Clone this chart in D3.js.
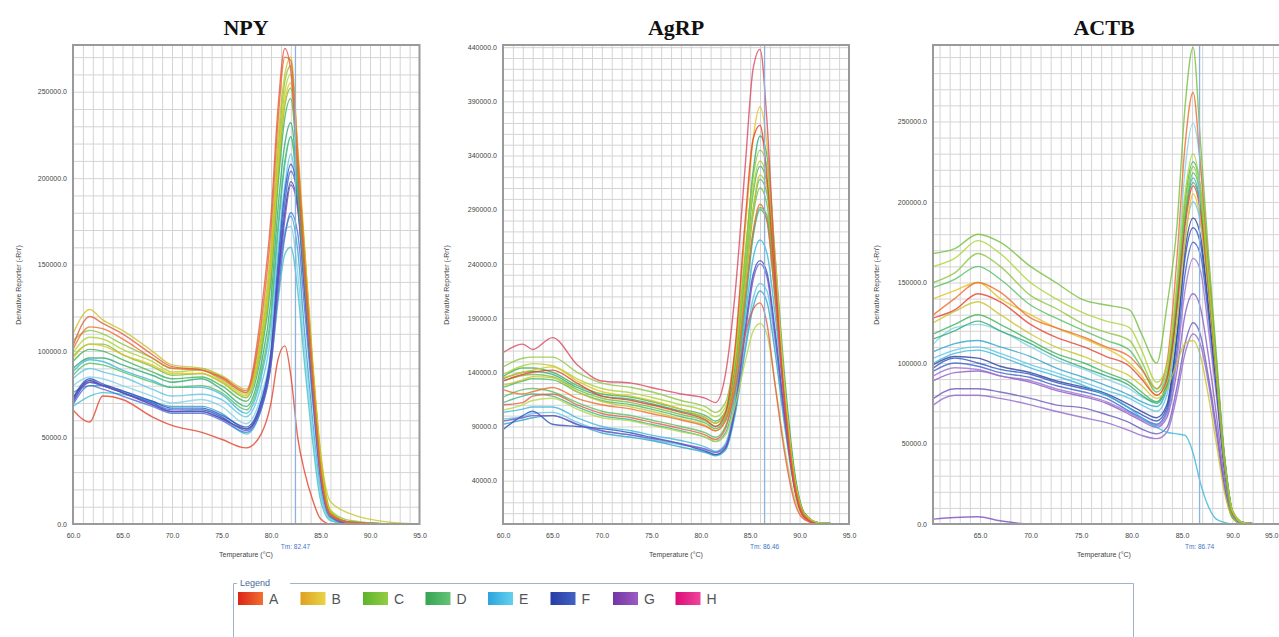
<!DOCTYPE html>
<html lang="en">
<head>
<meta charset="UTF-8">
<title>Melt curves</title>
<style>
  body { margin: 0; background: #fff; }
  svg text { font-family: "Liberation Sans", Arial, sans-serif; }
  .title { font-family: "Liberation Serif", "Times New Roman", serif; font-weight: bold; font-size: 22px; fill: #111; }
  .tick text { font-size: 7px; fill: #444; }
  .axis path { display: none; }
  .grid line { stroke: #d4d4d4; stroke-width: 1; }
  .grid path { display: none; }
  .axis-title { font-size: 7px; fill: #444; }
  .tm { font-size: 6.5px; fill: #3f74c8; }
</style>
</head>
<body>
<svg id="chart" width="1279" height="637"></svg>
<script src="https://d3js.org/d3.v7.min.js"></script>
<script>
// wells / legend
var groups = ["A", "B", "C", "D", "E", "F", "G", "H"];
var panelTitles = ["NPY", "AgRP", "ACTB"];
var tmLabels = [82.47, 86.46, 86.74];

// --- NPY : derivative reporter, thousands ---
var npyTemps = [60, 61.7, 63, 65, 68, 70, 73, 75, 77.5, 79, 80, 80.7, 81.4, 82, 82.7, 83.4, 84.2, 85, 86, 88, 92, 95];
var npyWells = ["E","E","E","E","E","F","F","F","F","G","D","D","D","C","C","C","B","B","A","A","A"];
var npyValues = [
  [88,95,94,89,83,79,79,75,64,85,118,168,208,224,192,140,80,30,5,0,0,0],
  [84,90,88,85,78,74,75,72,62,80,110,158,196,214,185,132,74,26,4,0,0,0],
  [76,80,80,77,71,68,68,64,55,70,98,140,168,178,158,110,60,20,3,0,0,0],
  [80,85,84,80,74,70,72,68,58,74,100,142,170,172,145,100,55,18,3,0,0,0],
  [68,74,76,75,70,65,66,62,52,66,92,128,156,160,135,92,48,14,2,0,0,0],
  [73,84,81,77,71,67,67,63,56,71,100,150,192,208,190,140,82,32,5,1,0,0],
  [70,82,80,76,70,66,66,62,54,68,96,145,186,204,188,138,80,30,5,1,0,0],
  [72,83,80,76,69,65,65,61,55,68,95,140,180,198,184,136,80,30,5,1,0,0],
  [69,80,78,74,68,64,64,60,53,66,92,132,166,180,168,124,72,26,4,0,0,0],
  [71,82,80,76,69,65,65,61,55,68,94,138,176,196,182,134,78,28,5,0,0,0],
  [94,101,100,95,88,84,85,80,71,98,140,195,235,246,204,152,90,38,7,1,0,0],
  [90,96,96,92,86,82,84,78,68,92,130,182,220,232,196,146,86,35,6,1,0,0],
  [86,93,92,88,82,79,80,76,66,88,122,172,210,224,190,140,82,32,5,1,0,0],
  [106,112,110,104,96,90,90,85,76,108,155,215,256,265,212,158,92,40,8,2,0,0],
  [99,108,107,101,94,88,89,83,75,105,150,208,250,260,210,156,92,40,8,1,0,0],
  [97,104,104,98,91,86,87,82,73,102,145,200,242,252,206,154,90,38,7,1,0,0],
  [96,104,103,98,92,87,87,82,74,104,148,205,245,255,210,156,92,38,7,1,0,0],
  [110,124,118,112,100,92,90,86,78,112,160,222,260,270,218,160,95,42,13,6,1,0],
  [66,59,74,72,62,57,53,49,44,52,70,95,103,86,50,30,14,3,0,0,0,0],
  [101,114,113,107,96,90,89,84,76,116,170,232,270,268,215,152,88,33,6,1,0,0],
  [103,120,116,110,98,91,89,85,77,122,178,240,275,262,205,145,82,30,5,1,0,0]
];
var npyYTicks = [0, 50000, 100000, 150000, 200000, 250000];
var npyXTicks = [60, 65, 70, 75, 80, 85, 90, 95];

// --- AgRP ---
var agrpTemps = [60, 62, 63, 65, 67.5, 70, 73, 75, 78, 80.5, 81.5, 82.5, 83.5, 84.5, 85.3, 86, 86.7, 87.5, 88.5, 89.5, 90.5, 92, 95];
var agrpWells = ["E","E","E","F","G","D","D","D","D","D","C","C","C","C","B","B","A","A","A","H"];
var agrpValues = [
  [103,106,108,108,98,90,86,82,77,71,67,74,115,190,245,262,250,195,110,40,9,1,0],
  [97,99,102,103,94,86,82,78,73,68,64,70,105,165,208,222,215,170,95,34,7,0,0],
  [92,96,98,100,92,84,80,77,71,66,63,68,102,160,200,215,205,160,90,32,6,0,0],
  [87,100,104,92,90,88,84,80,74,67,64,70,108,180,230,243,232,180,100,35,7,0,0],
  [95,98,100,100,92,86,82,79,74,69,66,72,108,175,225,240,228,175,98,34,7,0,0],
  [136,144,144,140,128,120,117,113,106,100,95,104,148,235,305,330,315,232,125,45,10,1,0],
  [134,140,141,138,126,118,115,111,104,98,93,103,150,245,325,358,340,250,135,48,10,1,0],
  [117,124,125,122,112,104,100,96,90,84,80,90,130,205,268,292,285,215,118,42,9,1,0],
  [112,118,120,118,108,100,96,92,86,80,76,84,122,200,265,290,280,210,115,40,9,1,0],
  [126,132,134,133,122,114,110,106,99,93,88,97,140,225,290,318,305,228,122,43,9,1,0],
  [145,153,154,154,140,130,126,122,114,108,103,112,160,250,320,345,330,240,125,42,9,1,0],
  [138,146,148,146,134,125,121,117,110,104,99,108,152,240,310,335,318,235,122,42,9,1,0],
  [132,137,138,136,124,116,112,108,101,95,90,99,140,220,285,310,295,220,118,40,8,1,0],
  [105,110,114,116,106,98,95,91,85,80,76,82,110,150,178,185,175,130,70,24,5,0,0],
  [135,140,142,145,132,122,118,114,106,98,93,104,160,270,355,385,350,250,125,40,8,0,0],
  [128,133,136,135,122,113,108,104,97,91,86,95,138,222,290,322,310,230,122,42,9,1,0],
  [132,138,140,142,130,118,114,110,103,96,90,102,165,280,355,368,320,225,110,35,6,0,0],
  [124,120,122,126,116,110,106,102,96,90,86,95,135,210,270,295,280,210,112,38,8,0,0],
  [110,112,118,120,110,102,98,94,88,82,78,88,125,175,198,204,185,130,65,20,4,0,0],
  [158,166,161,172,147,132,130,126,120,116,112,138,215,330,420,438,372,238,108,32,6,0,0]
];
var agrpYTicks = [40000, 90000, 140000, 190000, 240000, 290000, 340000, 390000, 440000];
var agrpXTicks = [60, 65, 70, 75, 80, 85, 90, 95];

// --- ACTB ---
var actbTemps = [60.4, 62.5, 64.8, 67, 70, 72.5, 75.3, 77.5, 79.8, 81, 82.5, 83.5, 84.5, 85.3, 86.1, 86.8, 87.6, 88.4, 89.2, 90, 91, 93, 96];
var actbWells = ["G","G","G","G","G","F","F","F","E","E","E","E","D","D","D","B","B","A","A","C","C","C"];
var actbValues = [
  [3,4,4.5,2,0,0,0,0,0,0,0,0,0,0,0,0,0,0,0,0,0,0,0],
  [74,80,80,78,74,70,66,63,58,55,53,57,80,106,118,112,88,56,22,4,0,0,0],
  [78,84,84,82,78,74,72,68,63,59,56,60,85,112,125,118,92,60,24,4,0,0,0],
  [89,94,95,92,88,83,79,75,68,64,60,66,95,130,143,135,105,68,28,5,0,0,0],
  [92,97,96,92,89,84,80,76,69,65,61,68,102,145,165,158,122,80,33,6,1,0,0],
  [97,103,100,96,93,88,84,80,72,68,64,72,115,165,184,175,135,86,36,7,1,0,0],
  [95,100,98,94,91,86,82,78,70,66,62,70,108,155,175,168,130,84,35,7,1,0,0],
  [99,104,103,98,94,89,85,81,74,70,66,74,118,170,190,180,138,88,37,7,1,0,0],
  [100,106,108,104,97,92,86,80,72,66,60,57,56,55,44,26,11,3,1,0,0,0,0],
  [103,108,110,106,99,94,88,83,78,74,70,80,125,178,200,188,145,92,38,7,1,0,0],
  [107,112,114,110,104,97,91,86,80,76,73,84,135,190,215,200,152,96,40,8,1,0,0],
  [112,122,124,120,110,102,96,90,84,79,76,90,150,220,249,225,165,104,44,8,1,0,0],
  [118,124,130,124,114,106,100,94,88,82,76,88,140,200,225,210,158,100,42,8,1,0,0],
  [115,120,126,120,112,104,97,92,86,80,75,86,135,190,212,198,150,96,40,8,1,0,0],
  [147,152,160,152,136,128,120,114,108,97,82,92,140,190,218,205,155,98,42,8,1,0,0],
  [140,145,150,140,130,122,115,109,100,92,80,88,125,175,205,190,145,92,38,7,1,0,0],
  [125,132,138,130,118,110,104,98,92,86,78,84,100,112,114,105,80,50,20,4,0,0,0],
  [128,133,143,138,124,116,110,104,98,90,80,90,135,185,210,195,148,94,38,7,1,0,0],
  [130,140,150,144,128,122,116,110,104,96,84,100,165,235,268,225,160,100,42,8,1,0,0],
  [150,156,168,160,142,134,124,119,114,101,84,95,145,195,222,205,152,96,40,8,1,0,0],
  [160,165,176,168,150,140,131,126,122,108,88,98,150,205,230,210,155,98,40,8,1,0,0],
  [168,171,180,175,160,150,139,136,133,118,100,135,185,259,296,240,170,105,40,4,0,0,0]
];
var actbYTicks = [0, 50000, 100000, 150000, 200000, 250000];
var actbXTicks = [65, 70, 75, 80, 85, 90, 95];

// colours
var wellPalette = {
  A: ["#e5412b", "#ef6a2c", "#e35b45"],
  B: ["#e2c21e", "#c9c42a"],
  C: ["#8dc63f", "#a9d432", "#76be3c", "#b4d84a"],
  D: ["#3db458", "#2eaa70", "#55bf62", "#34b48a", "#48b86a"],
  E: ["#36b6dc", "#5ac6e6", "#2aa5c9", "#7fd2e8", "#3fc0c8"],
  F: ["#2d4fbf", "#3b63d0", "#26409c", "#4a70d8"],
  G: ["#7b4fc2", "#9367cc", "#6c58bc", "#8a5ac8", "#a070d0"],
  H: ["#d9475f", "#e6197f"]
};
var legendStops = {
  A: ["#dc2418", "#f07030"], B: ["#e0a020", "#e8d448"], C: ["#5cb42c", "#94cc44"],
  D: ["#34a454", "#64c474"], E: ["#2ca4dc", "#64d0f0"], F: ["#263ca4", "#4462c4"],
  G: ["#7434a4", "#9c5cc4"], H: ["#dc0c78", "#f0449c"]
};

var svg = d3.select("#chart");
var W = 1279, TOP = 45, BOTTOM = 524;

var panels = [
  { key: "npy", temps: npyTemps, wells: npyWells, values: npyValues, yTicks: npyYTicks, xTicks: npyXTicks,
    xDomain: [60, 95], yMax: 277000, left: 73, right: 419.5, cx: 246, ylabX: 21 },
  { key: "agrp", temps: agrpTemps, wells: agrpWells, values: agrpValues, yTicks: agrpYTicks, xTicks: agrpXTicks,
    xDomain: [60, 95], yMax: 442000, left: 503, right: 849, cx: 676, ylabX: 449 },
  { key: "actb", temps: actbTemps, wells: actbWells, values: actbValues, yTicks: actbYTicks, xTicks: actbXTicks,
    xDomain: [60.35, 95], yMax: 297500, left: 933, right: 1283, cx: 1104, ylabX: 879 }
];

panels.forEach(function(p, pi) {
  var x = d3.scaleLinear().domain(p.xDomain).range([p.left, p.right]);
  var y = d3.scaleLinear().domain([0, p.yMax]).range([BOTTOM, TOP]);
  var w = p.right - p.left, h = BOTTOM - TOP;
  var g = svg.append("g");

  svg.append("clipPath").attr("id", "clip-" + p.key)
    .append("rect").attr("x", p.left).attr("y", TOP).attr("width", w).attr("height", h);

  // grid: 1 degree columns, 10000 rows
  var vGrid = d3.range(Math.ceil(p.xDomain[0] + 0.01), 95);
  var hGrid = d3.range(10000, p.yMax, 10000);
  g.append("g").attr("class", "grid")
    .attr("transform", "translate(0," + BOTTOM + ")")
    .call(d3.axisBottom(x).tickValues(vGrid).tickSize(-h).tickFormat(""));
  g.append("g").attr("class", "grid")
    .attr("transform", "translate(" + p.left + ",0)")
    .call(d3.axisLeft(y).tickValues(hGrid).tickSize(-w).tickFormat(""));

  // curves
  var counts = {};
  var colors = p.wells.map(function(wl) {
    counts[wl] = (counts[wl] || 0);
    var pal = wellPalette[wl];
    var c = pal[counts[wl] % pal.length];
    counts[wl]++;
    return c;
  });
  var line = d3.line()
    .x(function(v, i) { return x(p.temps[i]); })
    .y(function(v) { return y(v * 1000); })
    .curve(d3.curveMonotoneX);
  g.append("g").attr("clip-path", "url(#clip-" + p.key + ")")
    .selectAll("path").data(p.values).join("path")
    .attr("d", line)
    .attr("fill", "none")
    .attr("stroke", function(d, i) { return colors[i]; })
    .attr("stroke-width", 1.4)
    .attr("stroke-opacity", 0.8);

  // Tm marker
  var tmX = x(tmLabels[pi]);
  g.append("line").attr("x1", tmX).attr("x2", tmX).attr("y1", TOP).attr("y2", BOTTOM)
    .attr("stroke", "#8db2de").attr("stroke-width", 1.3);
  g.append("text").attr("class", "tm").attr("x", tmX).attr("y", 549)
    .attr("text-anchor", "middle").text("Tm: " + tmLabels[pi].toFixed(2));

  // frame
  g.append("rect").attr("x", p.left).attr("y", TOP).attr("width", w).attr("height", h)
    .attr("fill", "none").attr("stroke", "#9a9a9a").attr("stroke-width", 2);

  // axes
  g.append("g").attr("class", "axis").attr("transform", "translate(" + p.left + ",0)")
    .call(d3.axisLeft(y).tickValues(p.yTicks).tickSize(0).tickPadding(6)
      .tickFormat(function(d) { return d.toFixed(1); }));
  var xAxis = g.append("g").attr("class", "axis").attr("transform", "translate(0," + BOTTOM + ")")
    .call(d3.axisBottom(x).tickValues(p.xTicks).tickSize(0).tickPadding(9)
      .tickFormat(function(d) { return d.toFixed(1); }));
  // keep a label that would run past the window inside it
  xAxis.selectAll(".tick").each(function(d) {
    if (x(d) > W - 8) {
      d3.select(this).select("text").attr("text-anchor", "end").attr("x", W - 1 - x(d));
    }
  });

  g.append("text").attr("class", "axis-title")
    .attr("transform", "translate(" + p.ylabX + "," + 285 + ") rotate(-90)")
    .attr("text-anchor", "middle").text("Derivative Reporter (-Rn')");
  g.append("text").attr("class", "axis-title").attr("x", p.cx).attr("y", 557)
    .attr("text-anchor", "middle").text("Temperature (\u00B0C)");

  svg.append("text").attr("class", "title").attr("x", p.cx).attr("y", 35)
    .attr("text-anchor", "middle").text(panelTitles[pi]);
});

// legend box
var defs = svg.append("defs");
groups.forEach(function(gr) {
  var lg = defs.append("linearGradient").attr("id", "lg-" + gr);
  lg.append("stop").attr("offset", "0%").attr("stop-color", legendStops[gr][0]);
  lg.append("stop").attr("offset", "100%").attr("stop-color", legendStops[gr][1]);
});
var legend = svg.append("g");
legend.append("path").attr("d", "M233.5,637V583.5H237").attr("fill", "none").attr("stroke", "#9fb4cc");
legend.append("path").attr("d", "M290,583.5H1133.5V637").attr("fill", "none").attr("stroke", "#9fb4cc");
legend.append("text").attr("x", 240).attr("y", 586).attr("font-size", 9).attr("fill", "#4a6a9a").text("Legend");
var lx = d3.scalePoint().domain(groups).range([238, 675.5]);
var items = legend.selectAll("g.item").data(groups).join("g").attr("class", "item")
  .attr("transform", function(d) { return "translate(" + lx(d) + ",592)"; });
items.append("rect").attr("width", 25).attr("height", 13)
  .attr("fill", function(d) { return "url(#lg-" + d + ")"; });
items.append("text").attr("x", 31).attr("y", 12).attr("font-size", 14).attr("fill", "#555")
  .text(function(d) { return d; });
</script>
</body>
</html>
